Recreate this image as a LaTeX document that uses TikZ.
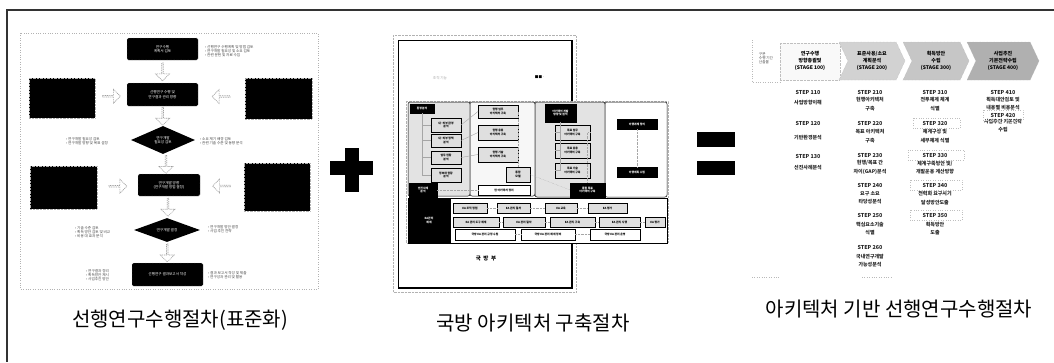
\documentclass[tikz,border=0pt]{standalone}
\usepackage{fontspec}
\setmainfont{Noto Sans CJK KR}
\usetikzlibrary{shapes.geometric,shapes.arrows,shapes.symbols,calc}
\newcommand\bx[7][]{\node[inner sep=0pt,outer sep=0pt,minimum width={(#5-#3)*1pt},minimum height={(#6-#4)*1pt},#1] (#2) at ({(#3+#5)/2},{(#4+#6)/2}) {#7};}
\begin{document}
\begin{tikzpicture}[x=1pt,y=-1pt,
  tiny/.style={font=\fontsize{3.6}{4.3}\selectfont},
  blk/.style={fill=black,draw=gray!70,densely dotted,rounded corners=1.5pt,text=white,align=center,tiny},
  sideblk/.style={fill=black,draw=gray!60,densely dotted},
  dia/.style={diamond,fill=black,text=white,align=center,tiny,inner sep=0pt},
  hol/.style={single arrow,draw=gray!75,dash pattern=on 1pt off 0.8pt,line width=0.6pt,fill=white,minimum width=14pt,minimum height=18pt,single arrow head extend=2.5pt,single arrow tip angle=90,inner sep=0pt},
  note/.style={text=gray!55!black,align=left,anchor=west,tiny,inner sep=0pt},
  tb/.style={draw=black,fill=gray!25,align=center,font=\fontsize{2.8}{3.3}\selectfont\bfseries},
  tbk/.style={draw=black,fill=black,text=white,align=center,font=\fontsize{2.8}{3.3}\selectfont\bfseries},
  sec/.style={draw=black,rounded corners=2pt,line width=0.5pt},
  lnk/.style={draw=gray!70,line width=0.4pt},
  stp/.style={font=\fontsize{5.4}{6}\selectfont\bfseries,text=black!85,align=center,inner sep=0pt},
  stc/.style={font=\fontsize{5}{8.3}\selectfont\bfseries,text=black!85,align=center,inner sep=0pt},
  hdr/.style={signal,signal to=east,signal from=west,signal pointer angle=130,draw=gray!60,densely dotted,minimum height=38pt,inner sep=0pt,align=center,font=\fontsize{5}{7}\selectfont\bfseries},
  captxt/.style={font=\fontsize{20}{20}\selectfont,text=black,inner sep=0pt},
  bar/.style={fill=black}]
\useasboundingbox (0,0) rectangle (1054,362);
\fill[white] (0,0) rectangle (1054,362);
% outer frame
\draw[line width=1.3pt,gray!40!black] (1054,10) -- (7,10) -- (7,362);

%%%%%%%%%%%%%%%% Thumbnail 1
\draw[gray!60,dotted] (20,33) rectangle (318,289);
\bx[blk]{A}{127}{38}{198}{60}{연구수행\\계획서 검토}
\bx[blk]{B}{127}{83}{198}{106}{선행연구 수행 및\\연구결과 관리 방향}
\node[dia,minimum width=64pt,minimum height=28pt] (D1) at (163,140) {연구개발\\필요성 검토};
\bx[blk]{C}{138}{174}{200}{196}{연구개발 방향\\(연구개발 방법 결정)}
\node[dia,minimum width=66pt,minimum height=20pt] (D2) at (167,230) {연구개발 결정};
\bx[blk]{D}{132}{263}{203}{286}{선행연구 결과보고서 작성}
\bx[sideblk]{L1}{29}{78}{95}{118}{}
\bx[sideblk]{R1}{245}{78}{312}{119}{}
\bx[sideblk]{L2}{30}{166}{97}{209}{}
\bx[sideblk]{R2}{244}{163}{310}{211}{}
% hollow arrows
\node[hol,shape border rotate=270] (h1) at ($(A.south)!0.5!(B.north)$) {};
\node[hol,shape border rotate=270] (h2) at ($(B.south)!0.5!(D1.north)$) {};
\node[hol,shape border rotate=270] (h3) at ($(D1.south)!0.5!(C.north)$) {};
\node[hol,shape border rotate=270] (h4) at ($(C.south)!0.5!(D2.north)$) {};
\node[hol,shape border rotate=270] (h5) at ($(D2.south)!0.5!(D.north)$) {};
\node[hol] (h6) at ($(L1.east)!0.5!(B.west)$) {};
\node[hol,shape border rotate=180] (h7) at ($(B.east)!0.5!(R1.west)$) {};
\node[hol] (h8) at ($(L2.east)!0.5!(C.west)$) {};
\node[hol,shape border rotate=180] (h9) at ($(C.east)!0.5!(R2.west)$) {};
% notes
\node[note] (n1) at (205,51) {• 선행연구 수행계획 및 방법 검토\\• 연구개발 필요성 및 소요 검토\\• 관련 문헌 및 자료 수집};
\node[note] (n2) at (66,141) {• 연구개발 필요성 검토\\• 연구개발 방향 및 목표 설정};
\node[note] (n3) at (200,141) {• 소요 제기 배경 검토\\• 관련 기술 수준 및 동향 분석};
\node[note] (n4) at (75,232) {• 기술 수준 검토\\• 획득 방안 검토 및 비교\\• 비용 대 효과 분석};
\node[note] (n5) at (208,229) {• 연구개발 방안 결정\\• 사업 추진 전략};
\node[note] (n6) at (86,275) {• 연구결과 정리\\• 획득방안 제시\\• 사업추진 방안};
\node[note] (n7) at (208,275) {• 결과 보고서 작성 및 제출\\• 연구성과 관리 및 활용};
\node[captxt] (cap1) at (180,320) {선행연구수행절차(표준화)};

%%%%%%%%%%%%%%%% plus
\fill[bar] (345,148) rectangle (359,192);
\fill[bar] (330,161) rectangle (373,175);

%%%%%%%%%%%%%%%% Thumbnail 2
\draw[gray!60,densely dotted] (393,35) rectangle (576,292);
\draw[black,line width=0.5pt] (398,40) rectangle (572,288);
\draw[black,line width=1.3pt] (572,40) -- (572,288) -- (398,288);
\node[tiny,text=gray!70] (p1) at (440,78) {조직 기능};
\node[tiny,text=black] (p2) at (540,77) {■■ ·};
\node[font=\fontsize{5.5}{6}\selectfont\bfseries] (p3) at (486,258) {국 \ 방 \ 부};
\fill[white] (406,101) rectangle (668,243);
\draw[gray!60,densely dotted] (406,101) rectangle (668,243);
% sections
\bx[sec,fill=gray!22]{S1}{408}{102}{470}{196}{}
\bx[sec,fill=gray!6]{S2}{470}{102}{535}{196}{}
\bx[sec,fill=gray!22]{S3}{535}{102}{605}{197}{}
\bx[sec,fill=white]{S4}{605}{102}{667}{197}{}
\bx[tbk]{s1h}{410}{104}{434}{113}{환경분석}
\bx[tb]{a1}{431}{118}{461}{132}{내·외부 환경\\분석}
\bx[tb]{a2}{431}{134}{461}{147}{내·외부 정책\\분석}
\bx[tb]{a3}{431}{151}{461}{164}{업무 현황\\분석}
\bx[tb]{a4}{431}{168}{461}{182}{정보화 현황\\분석}
\bx[tbk]{a5}{409}{183}{437}{197}{선진사례\\분석}
\draw[lnk] (s1h.south) |- (a1.west);
\draw[lnk] (s1h.south) |- (a2.west);
\draw[lnk] (s1h.south) |- (a3.west);
\draw[lnk] (s1h.south) |- (a4.west);
\bx[tb]{b1}{478}{105}{518}{118}{현행 업무\\아키텍처 구축}
\bx[tb]{b2}{478}{125}{518}{140}{현행 응용\\아키텍처 구축}
\bx[tb]{b3}{478}{147}{518}{162}{현행 기술\\아키텍처 구축}
\bx[tb]{b4}{506}{167}{530}{182}{통합\\모델}
\bx[tb,fill=white]{b5}{478}{185}{530}{195}{현 아키텍처 정리}
\draw[lnk] (a1.east) -- (b1.west);
\draw[lnk] (a2.east) -- (b2.west);
\draw[lnk] (a3.east) -- (b3.west);
\draw[lnk,densely dotted] (b1.east) -| (b4.north);
\draw[lnk,densely dotted] (a5.east) -- (b5.west);
\bx[tbk]{c0}{545}{104}{576}{122}{아키텍처 개발\\방향 및 원칙}
\bx[tb]{c1}{555}{125}{590}{140}{목표 업무\\아키텍처 구축}
\bx[tb]{c2}{555}{143}{590}{158}{목표 응용\\아키텍처 구축}
\bx[tb]{c3}{555}{163}{590}{178}{목표 기술\\아키텍처 구축}
\bx[tbk]{c4}{570}{183}{605}{197}{통합 목표\\아키텍처 구축}
\draw[lnk] (c0.south) |- (c1.west);
\draw[lnk] (c0.south) |- (c2.west);
\draw[lnk] (c0.south) |- (c3.west);
\draw[lnk,densely dotted] (c1.east) -| (c4.north);
\draw[lnk,densely dotted] (b4.east) -- (c4.west);
\bx[tbk]{d1}{617}{119}{657}{129}{이행과제 정의}
\bx[tbk]{d2}{617}{167}{657}{177}{이행계획 수립}
\draw[lnk,densely dotted] (d1.south) -- (d2.north);
% bottom band
\bx[sec,fill=white,rounded corners=0pt]{E}{408}{198}{667}{243}{}
\bx[tbk]{e0}{408}{198}{450}{243}{EA관리\\체계}
\bx[tb]{f1}{453}{203}{487}{213}{EA 조직 정립}
\bx[tb]{f2}{497}{203}{530}{213}{EA 관리 절차}
\bx[tb]{f3}{545}{203}{577}{213}{EA 교육}
\bx[tb]{f4}{588}{203}{627}{213}{EA 평가}
\bx[tb]{g1}{453}{217}{499}{227}{EA 관리 도구 체계}
\bx[tb]{g2}{503}{217}{545}{227}{EA 관리 절차}
\bx[tb]{g3}{550}{217}{595}{227}{EA 관리 구축}
\bx[tb]{g4}{599}{217}{640}{227}{EA 관리 시행}
\bx[tb]{g5}{645}{217}{665}{227}{EA 평가}
\bx[tb,fill=white]{k1}{455}{229}{515}{240}{국방 EA 관리 규정 수립}
\bx[tb,fill=white]{k2}{521}{229}{575}{240}{국방 EA 관리 체계 정비}
\bx[tb,fill=white]{k3}{590}{229}{640}{240}{국방 EA 관리 운영}
\draw[lnk,densely dotted] (f1) -- (f2); \draw[lnk,densely dotted] (f2) -- (f3); \draw[lnk,densely dotted] (f3) -- (f4);
\draw[lnk,densely dotted] (g1) -- (g2); \draw[lnk,densely dotted] (g2) -- (g3); \draw[lnk,densely dotted] (g3) -- (g4); \draw[lnk,densely dotted] (g4) -- (g5);
\draw[lnk,densely dotted] (k1) -- (k2); \draw[lnk,densely dotted] (k2) -- (k3);
\node[captxt] (cap2) at (533,323) {국방 아키텍처 구축절차};

%%%%%%%%%%%%%%%% equals
\fill[bar] (697,132) rectangle (735,147);
\fill[bar] (697,161) rectangle (735,175);

%%%%%%%%%%%%%%%% Thumbnail 3
\draw[gray!55,dotted] (752,40) -- (752,82) -- (780,82);
\draw[gray!55,dotted] (752,277) -- (780,277);
\draw[gray!55,dotted] (862,277) -- (892,277);
\node[tiny,text=gray!60!black,align=left] (lab) at (766,58) {구분\\수행 기간\\산출물};
\bx[draw=gray!50,densely dotted,fill=gray!5]{T1}{780}{43}{840}{80}{}
\node[stp,text=black,font=\fontsize{5}{7}\selectfont\bfseries] (t1) at (810,61) {연구수행\\방향총괄및\\(STAGE 100)};
\node[hdr,fill=gray!35,minimum width=66pt] (T2) at (872,61) {표준사용/소요\\계획분석\\(STAGE 200)};
\node[hdr,fill=gray!45,minimum width=66pt] (T3) at (936,61) {획득방안\\수립\\(STAGE 300)};
\node[hdr,fill=gray!62,minimum width=72pt] (T4) at (1003,61) {사업추진\\기본전략수립\\(STAGE 400)};
% column 1
\node[stp] (s110) at (808,92) {STEP 110};
\node[stc] (s110t) at (808,103) {사업방향이해};
\node[stp] (s120) at (808,123) {STEP 120};
\node[stc] (s120t) at (808,138) {기반환경분석};
\node[stp] (s130) at (808,156) {STEP 130};
\node[stc] (s130t) at (808,168) {선진사례분석};
% column 2
\node[stp] (s210) at (870,92) {STEP 210};
\node[stc] (s210t) at (870,104) {현행아키텍처\\구축};
\node[stp] (s220) at (870,123) {STEP 220};
\node[stc] (s220t) at (870,136) {목표 아키텍처\\구축};
\node[stp] (s230) at (870,155) {STEP 230};
\node[stc] (s230t) at (870,167.5) {현행/목표 간\\차이(GAP)분석};
\node[stp] (s240) at (870,185) {STEP 240};
\node[stc] (s240t) at (870,198) {요구 소요\\타당성분석};
\node[stp] (s250) at (870,215) {STEP 250};
\node[stc] (s250t) at (870,228.5) {핵심요소기술\\식별};
\node[stp] (s260) at (870,247) {STEP 260};
\node[stc] (s260t) at (870,260.5) {국내연구개발\\가능성분석};
% column 3
\node[stp] (s310) at (935,92) {STEP 310};
\node[stc] (s310t) at (935,104) {전투체계 체계\\식별};
\node[stp] (s320) at (935,123) {STEP 320};
\node[stc] (s320t) at (935,136) {체계구성 및\\세부체계 식별};
\node[stp] (s330) at (935,155) {STEP 330};
\node[stc] (s330t) at (935,167.5) {체계구축방안 및/\\개발운용 계산방향};
\node[stp] (s340) at (935,185) {STEP 340};
\node[stc] (s340t) at (935,198) {전력화 요구시기\\달성방안도출};
\node[stp] (s350) at (935,215) {STEP 350};
\node[stc] (s350t) at (935,228.5) {획득방안\\도출};
\draw[gray!50,dotted] (913,118) rectangle (960,128);
\draw[gray!50,dotted] (908,150) rectangle (964,160);
\draw[gray!50,dotted] (910,180) rectangle (962,190);
\draw[gray!50,dotted] (910,210) rectangle (962,220);
% column 4
\node[stp] (s410) at (1003,92) {STEP 410};
\node[stc] (s410t) at (1003,103.5) {획득대안검토 및\\내용별 비용분석};
\node[stp] (s420) at (1003,115) {STEP 420};
\node[stc] (s420t) at (1003,125.5) {사업추진 기본전략\\수립};
\draw[gray!50,dotted] (983,110) rectangle (1023,120);
\node[captxt] (cap3) at (899,309) {아키텍처 기반 선행연구수행절차};
\end{tikzpicture}
\end{document}
